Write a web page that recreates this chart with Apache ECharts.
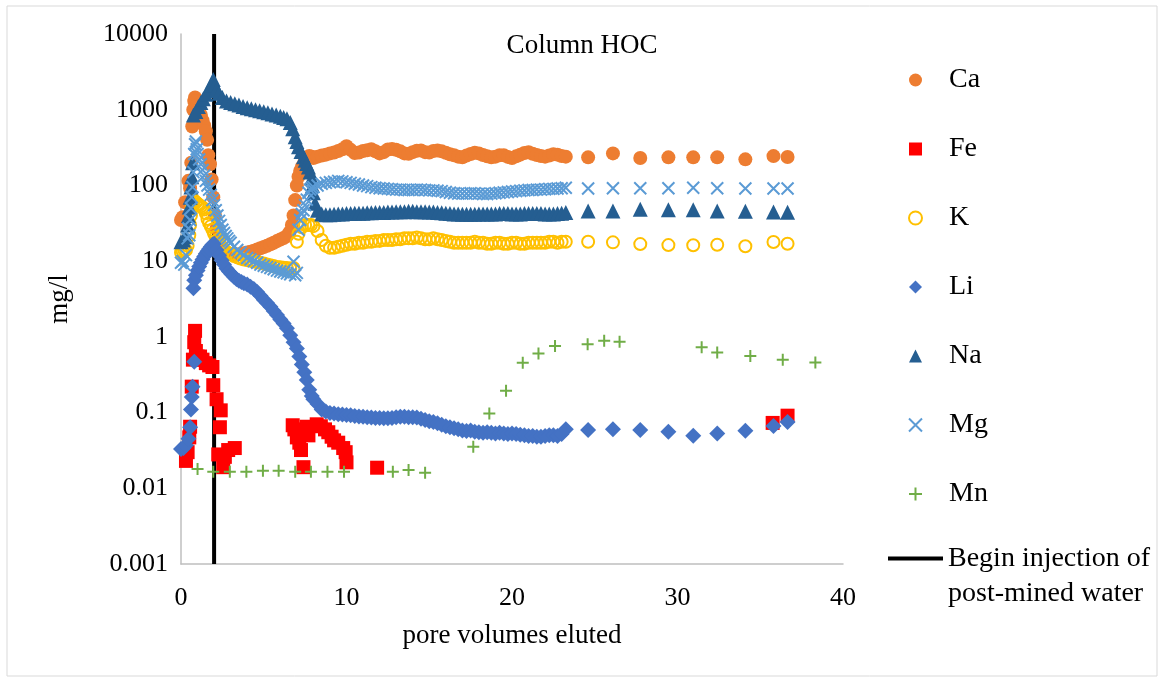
<!DOCTYPE html>
<html>
<head>
<meta charset="utf-8">
<script src="https://cdn.jsdelivr.net/npm/echarts@6/dist/echarts.min.js"></script>
<style>
html,body{margin:0;padding:0;background:#fff;}
#chart{width:1164px;height:683px;}
</style>
</head>
<body>
<div id="chart"></div>
<script>
// ---- data (x = pore volumes eluted, y = mg/l) ----
const xTicks = [0, 10, 20, 30, 40];
const yTickLabels = ['0.001', '0.01', '0.1', '1', '10', '100', '1000', '10000'];
const injectionPV = 2;

const ca = [[0,35],[0.1,38],[0.25,60],[0.45,115],[0.55,92],[0.62,200],[0.68,600],[0.74,1000],[0.8,1300],[0.85,1450],[0.92,1300],[1.0,1150],[1.1,1000],[1.2,850],[1.3,720],[1.4,620],[1.5,520],[1.58,400],[1.65,250],[1.75,190],[1.85,120],[1.95,70],[2.05,40],[2.15,27],[2.3,19],[2.45,15.5],[2.6,13.8],[2.8,12.8],[3.0,12.4],[3.2,12.2],[3.4,12.2],[3.6,12.4],[3.8,12.7],[4.0,13],[4.2,13.3],[4.4,13.7],[4.6,14.2],[4.8,14.8],[5.0,15.4],[5.2,16],[5.4,16.7],[5.6,17.5],[5.8,18.4],[6.0,19.3],[6.2,20.2],[6.4,21.5],[6.55,24],[6.7,30],[6.8,40],[6.9,64],[7.0,100],[7.1,130],[7.2,155],[7.3,175],[7.45,200],[7.6,225],[7.75,245],[7.9,240],
[8,230],[8.25,240],[8.5,248],[8.75,255],[9,265],[9.25,272],[9.5,285],[9.75,300],[10,330],[10.25,295],[10.5,268],[10.75,272],[11,285],[11.25,292],[11.5,300],[11.75,283],[12,265],[12.25,275],[12.5,298],[12.75,302],[13,295],[13.25,282],[13.5,265],[13.75,262],[14,275],[14.25,287],[14.5,290],[14.75,275],[15,272],[15.25,285],[15.5,290],[15.75,282],[16,270],[16.25,258],[16.5,250],[16.75,240],[17,235],[17.25,248],[17.5,260],[17.75,270],[18,265],[18.25,252],[18.5,242],[18.75,235],[19,240],[19.25,250],[19.5,250],[19.75,238],[20,230],[20.25,242],[20.5,255],[20.75,268],[21,275],[21.25,262],[21.5,252],[21.75,245],[22,240],[22.25,248],[22.5,258],[22.75,255],[23,245],[23.25,240],
[24.6,235],[26.1,265],[27.75,230],[29.45,235],[30.95,235],[32.4,235],[34.1,221],[35.8,244],[36.65,237]];

const fe = [[0.3,0.023],[0.4,0.03],[0.5,0.047],[0.55,0.065],[0.65,0.22],[0.72,0.5],[0.8,0.85],[0.85,1.2],[0.9,0.65],[1.0,0.55],[1.15,0.55],[1.3,0.5],[1.5,0.45],[1.7,0.42],[1.9,0.4],[1.95,0.23],[2.15,0.15],[2.4,0.107],[2.35,0.064],[2.25,0.028],[2.55,0.019],[2.65,0.026],[2.85,0.032],[3.25,0.034],
[6.75,0.068],[6.85,0.06],[7.0,0.047],[7.15,0.04],[7.25,0.032],[7.4,0.019],[7.6,0.065],[7.7,0.05],[8.2,0.07],[8.45,0.066],[8.7,0.06],[8.9,0.055],[9.1,0.048],[9.25,0.043],[9.5,0.04],[9.8,0.034],[9.95,0.03],[10.0,0.022],[11.85,0.0187],[35.75,0.073],[36.65,0.091]];

const k = [[0,13],[0.1,13.5],[0.2,14],[0.3,14],[0.4,16],[0.5,22],[0.55,30],[0.6,40],[0.65,50],[0.7,58],[0.8,63],[0.9,60],[1.0,57],[1.1,55],[1.2,53],[1.3,51],[1.4,48],[1.5,43],[1.6,36],[1.7,32],[1.8,29],[1.9,26],[2.0,23],[2.1,21],[2.2,19],[2.3,17.5],[2.4,16],[2.5,15],[2.6,14.2],[2.8,13],[3.0,12.3],[3.2,11.7],[3.4,11.2],[3.6,10.8],[3.8,10.5],[4.0,10.3],[4.2,10.1],[4.4,9.9],[4.6,9.7],[4.8,9.5],[5.0,9.3],[5.2,9.0],[5.4,8.8],[5.6,8.6],[5.8,8.4],[6.0,8.3],[6.2,8.2],[6.4,8.1],[6.6,8.0],[6.8,8.1],[7.0,18],[7.1,23],[7.3,28],[7.5,30],[7.7,30],[7.85,30],
[8,29],[8.25,25],[8.5,19],[8.75,16],[9,15],[9.25,15],[9.5,15.5],[9.75,16],[10,16.5],[10.25,17],[10.5,17],[10.75,17.5],[11,17.5],[11.25,18],[11.5,18],[11.75,18.5],[12,18.5],[12.25,19],[12.5,19],[12.75,19],[13,19.5],[13.25,19.5],[13.5,20],[13.75,20],[14,20],[14.25,20.5],[14.5,20],[14.75,19.5],[15,19.5],[15.25,20],[15.5,19.5],[15.75,19],[16,18.5],[16.25,18],[16.5,17.5],[16.75,17.5],[17,17.5],[17.25,17.5],[17.5,17.5],[17.75,18],[18,17.5],[18.25,17.5],[18.5,17],[18.75,17],[19,17.5],[19.25,17.5],[19.5,17],[19.75,17],[20,17.5],[20.25,17.5],[20.5,17],[20.75,17],[21,17.5],[21.25,17.5],[21.5,17.5],[21.75,17.5],[22,17.5],[22.25,18],[22.5,18],[22.75,17.5],[23,18],[23.25,18],
[24.6,18.0],[26.1,17.7],[27.75,16.8],[29.45,16.3],[30.95,16.2],[32.4,16.5],[34.1,15.7],[35.8,17.9],[36.65,17.0]];

const li = [[0,0.033],[0.15,0.034],[0.3,0.037],[0.45,0.045],[0.55,0.064],[0.6,0.11],[0.65,0.16],[0.7,0.22],[0.8,0.47],[0.75,4.4],[0.8,5.6],[0.9,6.5],[1.0,7.5],[1.1,8.5],[1.2,9.5],[1.3,10.5],[1.4,11.5],[1.5,12.5],[1.6,13.5],[1.7,14.5],[1.8,15.5],[1.9,16.5],[2.0,17],[2.15,14],[2.3,12],[2.45,10.3],[2.6,9],[2.75,8],[2.9,7.3],[3.05,6.7],[3.2,6.2],[3.35,5.8],[3.5,5.5],[3.65,5.3],[3.8,5.1],[4.0,4.9],[4.2,4.6],[4.4,4.3],[4.6,3.9],[4.8,3.5],[5.0,3.1],[5.2,2.8],[5.4,2.5],[5.6,2.2],[5.8,1.95],[6.0,1.7],[6.2,1.5],[6.4,1.3],[6.6,1.05],[6.8,0.85],[7.0,0.7],[7.15,0.55],[7.3,0.43],[7.45,0.34],[7.6,0.27],[7.75,0.2],[7.9,0.165],
[8,0.15],[8.25,0.13],[8.5,0.11],[8.75,0.103],[9,0.099],[9.25,0.097],[9.5,0.095],[9.75,0.094],[10,0.093],[10.25,0.092],[10.5,0.09],[10.75,0.089],[11,0.088],[11.25,0.087],[11.5,0.086],[11.75,0.085],[12,0.085],[12.25,0.084],[12.5,0.084],[12.75,0.085],[13,0.087],[13.25,0.088],[13.5,0.088],[13.75,0.087],[14,0.087],[14.25,0.086],[14.5,0.083],[14.75,0.08],[15,0.077],[15.25,0.075],[15.5,0.072],[15.75,0.069],[16,0.066],[16.25,0.064],[16.5,0.062],[16.75,0.06],[17,0.058],[17.25,0.057],[17.5,0.058],[17.75,0.056],[18,0.055],[18.25,0.054],[18.5,0.055],[18.75,0.054],[19,0.053],[19.25,0.054],[19.5,0.053],[19.75,0.052],[20,0.053],[20.25,0.052],[20.5,0.051],[20.75,0.05],[21,0.049],[21.25,0.049],[21.5,0.048],[21.75,0.048],[22,0.049],[22.25,0.05],[22.5,0.05],[22.75,0.049],[23,0.052],[23.25,0.06],
[24.6,0.0587],[26.1,0.060],[27.75,0.0587],[29.45,0.0557],[30.95,0.0493],[32.4,0.0531],[34.1,0.0575],[35.8,0.0664],[36.65,0.075]];

const na = [[0,18],[0.15,19],[0.3,21],[0.4,30],[0.45,40],[0.5,52],[0.55,70],[0.6,95],[0.65,130],[0.7,200],[0.75,850],[0.9,950],[1.05,1100],[1.2,1250],[1.35,1400],[1.5,1600],[1.65,1800],[1.8,2100],[1.95,2500],[2.05,2100],[2.15,1850],[2.3,1650],[2.5,1450],[2.75,1300],[3.0,1250],[3.25,1200],[3.5,1150],[3.75,1100],[4.0,1060],[4.25,1030],[4.5,1000],[4.75,970],[5.0,940],[5.25,910],[5.5,880],[5.75,850],[6.0,820],[6.2,790],[6.4,760],[6.6,680],[6.75,560],[6.9,440],[7.0,380],[7.1,325],[7.25,280],[7.4,240],[7.5,215],[7.6,195],[7.7,175],[7.8,150],[7.9,125],[7.95,100],
[8,80],[8.1,58],[8.25,47],[8.5,42],[8.75,41],[9,41],[9.25,41.5],[9.5,42],[9.75,42],[10,42.5],[10.25,42.5],[10.5,43],[10.75,43],[11,43],[11.25,43.5],[11.5,43.5],[11.75,44],[12,44],[12.25,44],[12.5,44.5],[12.75,44.5],[13,45],[13.25,45],[13.5,45],[13.75,45.5],[14,45.5],[14.25,45],[14.5,45],[14.75,45],[15,44.5],[15.25,44.5],[15.5,44],[15.75,43.5],[16,43],[16.25,42.5],[16.5,42],[16.75,42],[17,41.5],[17.25,41.5],[17.5,41.5],[17.75,41.5],[18,42],[18.25,42],[18.5,42],[18.75,42],[19,42],[19.25,42.5],[19.5,42.5],[19.75,42.5],[20,42],[20.25,42],[20.5,42],[20.75,42.5],[21,42.5],[21.25,42.5],[21.5,42.5],[21.75,42.5],[22,42],[22.25,42],[22.5,42],[22.75,42.5],[23,43],[23.25,44],
[24.6,45.9],[26.1,45.9],[27.75,48.3],[29.45,47.7],[30.95,47.7],[32.4,45.9],[34.1,45.5],[35.8,44.6],[36.65,44.2]];

const mg = [[0,9.5],[0.1,10],[0.2,9],[0.3,12],[0.4,20],[0.45,27],[0.5,22],[0.55,35],[0.6,50],[0.65,70],[0.7,95],[0.75,150],[0.8,260],[0.85,350],[0.9,380],[0.95,300],[1.0,260],[1.1,220],[1.2,190],[1.3,160],[1.4,135],[1.5,115],[1.6,100],[1.7,88],[1.8,75],[1.9,64],[2.0,55],[2.1,47],[2.2,40],[2.3,34],[2.4,30],[2.5,26],[2.6,23.5],[2.7,21.5],[2.8,20],[2.9,18.5],[3.0,17.5],[3.2,15.5],[3.4,14],[3.6,13],[3.8,12],[4.0,11],[4.2,10.5],[4.4,10],[4.6,9.5],[4.8,9],[5.0,8.7],[5.2,8.4],[5.4,8.1],[5.6,7.8],[5.8,7.5],[6.0,7.3],[6.2,7.1],[6.4,6.9],[6.6,6.7],[6.8,9.8],[6.9,6.5],[7.0,7],[7.1,26],[7.2,35],[7.3,42],[7.4,47],[7.5,55],[7.6,65],[7.7,80],[7.8,88],[7.9,92],
[8,95],[8.25,100],[8.5,105],[8.75,108],[9,110],[9.25,112],[9.5,115],[9.75,113],[10,110],[10.25,108],[10.5,105],[10.75,103],[11,100],[11.25,98],[11.5,95],[11.75,93],[12,92],[12.25,91],[12.5,90],[12.75,89],[13,88],[13.25,88],[13.5,87],[13.75,87],[14,87],[14.25,88],[14.5,88],[14.75,87],[15,86],[15.25,86],[15.5,85],[15.75,84],[16,82],[16.25,80],[16.5,79],[16.75,78],[17,78],[17.25,78],[17.5,79],[17.75,79],[18,78],[18.25,77],[18.5,77],[18.75,78],[19,79],[19.25,80],[19.5,81],[19.75,82],[20,83],[20.25,84],[20.5,85],[20.75,86],[21,87],[21.25,87],[21.5,88],[21.75,88],[22,89],[22.25,90],[22.5,90],[22.75,91],[23,92],[23.25,93],
[24.6,91],[26.1,92],[27.75,92],[29.45,92],[30.95,93],[32.4,92],[34.1,91],[35.8,91],[36.65,91]];

const mn = [[1.0,0.018],[1.95,0.0165],[2.95,0.0165],[3.95,0.0165],[4.95,0.017],[5.9,0.017],[6.9,0.0165],[7.85,0.0165],[8.85,0.0165],[9.85,0.0165],[12.8,0.0165],[13.75,0.0175],[14.75,0.016],[17.66,0.0353],[18.63,0.0975],[19.64,0.194],[20.65,0.455],[21.6,0.605],[22.6,0.755],[24.57,0.8],[25.57,0.89],[26.5,0.86],[31.46,0.73],[32.4,0.62],[34.4,0.56],[36.36,0.5],[38.33,0.46]];

const injectionLine = [[injectionPV, 0.001], [injectionPV, 10000]];
const injectionName = 'Begin injection of post-mined water';

// ---- chart ----
const FONT = 'Liberation Serif';
const chart = echarts.init(document.getElementById('chart'), null, {renderer: 'canvas'});

function scatter(name, data, symbol, size, style) {
  return {
    name: name, type: 'scatter', data: data, symbol: symbol, symbolSize: size,
    itemStyle: Object.assign({opacity: 1}, style), emphasis: {disabled: true}, animation: false
  };
}
const X_PATH = 'path://M0,0L10,10M10,0L0,10';
const PLUS_PATH = 'path://M5,0L5,10M0,5L10,5';

const option = {
  animation: false,
  backgroundColor: '#fff',
  grid: {left: 181, right: 321, top: 34, bottom: 119, containLabel: false},
  graphic: [
    {type: 'rect', shape: {x: 7, y: 6, width: 1150, height: 670}, style: {fill: 'none', stroke: '#D9D9D9', lineWidth: 1}, silent: true},
    {type: 'text', x: 582, y: 46, style: {text: 'Column HOC', textAlign: 'center', textVerticalAlign: 'middle', font: '27px "Liberation Serif"', fill: '#000'}}
  ],
  legend: [
    {
      data: ['Ca', 'Fe', 'K', 'Li', 'Na', 'Mg', 'Mn'],
      orient: 'vertical', left: 903, top: 61, itemWidth: 13, itemHeight: 13, itemGap: 41,
      selectedMode: false,
      textStyle: {fontFamily: FONT, fontSize: 28, color: '#000', lineHeight: 28, padding: [0, 0, 0, 22]}
    },
    {
      data: [{name: injectionName, icon: 'rect'}],
      orient: 'vertical', left: 883, top: 501, itemWidth: 55, itemHeight: 4,
      selectedMode: false,
      itemStyle: {color: '#000'},
      formatter: function () { return '\nBegin injection of\npost-mined water'; },
      textStyle: {fontFamily: FONT, fontSize: 28, color: '#000', lineHeight: 35}
    }
  ],
  xAxis: {
    type: 'value', min: xTicks[0], max: xTicks[xTicks.length - 1], interval: 10,
    name: 'pore volumes eluted', nameLocation: 'middle', nameGap: 58,
    nameTextStyle: {fontFamily: FONT, fontSize: 27, color: '#000'},
    axisLine: {show: true, lineStyle: {color: '#BFBFBF', width: 1.5}},
    axisTick: {show: false}, splitLine: {show: false},
    axisLabel: {fontFamily: FONT, fontSize: 26, color: '#000', margin: 21}
  },
  yAxis: {
    type: 'log', logBase: 10, min: 0.001, max: 10000,
    name: 'mg/l', nameLocation: 'middle', nameGap: 108, nameRotate: 90,
    nameTextStyle: {fontFamily: FONT, fontSize: 27, color: '#000'},
    axisLine: {show: true, lineStyle: {color: '#BFBFBF', width: 1.5}},
    axisTick: {show: false}, splitLine: {show: false},
    axisLabel: {fontFamily: FONT, fontSize: 26, color: '#000', margin: 13,
      formatter: function (v) { return yTickLabels[Math.round(Math.log10(v)) + 3]; }}
  },
  series: [
    {
      name: injectionName, type: 'line', data: injectionLine, symbol: 'none',
      lineStyle: {color: '#000', width: 4}, itemStyle: {color: '#000'}, z: 1, silent: true, animation: false
    },
    scatter('Ca', ca, 'circle', 14, {color: '#ED7D31'}),
    scatter('Fe', fe, 'rect', 14, {color: '#FF0000'}),
    scatter('K', k, 'circle', 12, {color: 'rgba(255,192,0,0)', borderColor: '#FFC000', borderWidth: 2}),
    scatter('Li', li, 'diamond', 16, {color: '#4472C4'}),
    scatter('Na', na, 'triangle', 15, {color: '#255E91'}),
    scatter('Mg', mg, X_PATH, 12, {color: 'rgba(0,0,0,0)', borderColor: '#5B9BD5', borderWidth: 2}),
    scatter('Mn', mn, PLUS_PATH, 12, {color: 'rgba(0,0,0,0)', borderColor: '#70AD47', borderWidth: 2})
  ]
};
chart.setOption(option);
</script>
</body>
</html>
